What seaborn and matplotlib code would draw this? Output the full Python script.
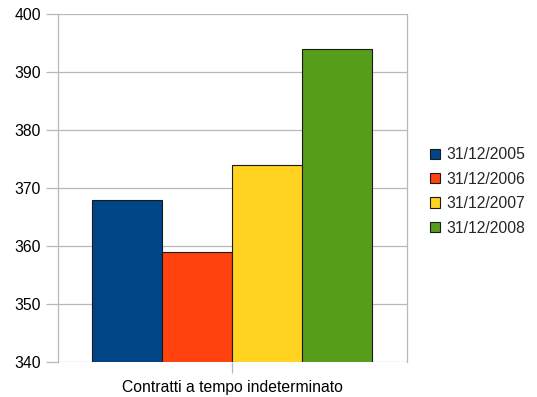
import matplotlib
matplotlib.use("Agg")
import matplotlib.pyplot as plt
import seaborn as sns
import pandas as pd

category = ["Contratti a tempo indeterminato"]
dates = ["31/12/2005", "31/12/2006", "31/12/2007", "31/12/2008"]
values = [368, 359, 374, 394]
colors = ["#004586", "#ff420e", "#ffd320", "#579d1c"]
yticks = [340, 350, 360, 370, 380, 390, 400]

df = pd.DataFrame({
    "categoria": category * len(dates),
    "data": dates,
    "valore": values,
})

sns.set_theme(style="white")
plt.rcParams["font.family"] = ["Liberation Sans", "DejaVu Sans"]

fig = plt.figure(figsize=(5.37, 3.97), dpi=100)
ax = fig.add_axes([57.5 / 537, 1 - 362 / 397, 349 / 537, 348 / 397])

sns.barplot(data=df, x="categoria", y="valore", hue="data", palette=colors,
            width=0.8, edgecolor="#1a1a1a", linewidth=0.8, saturation=1,
            ax=ax, zorder=3, legend=True)

ax.set_ylim(340, 400)
ax.set_yticks(yticks)
ax.set_xlim(-0.5, 0.5)
ax.set_xlabel("")
ax.set_ylabel("")
ax.grid(axis="y", color="#b8b8b8", linewidth=0.9, zorder=0)
for side in ["left", "right"]:
    ax.spines[side].set_color("#b8b8b8")
    ax.spines[side].set_linewidth(0.9)
for side in ["top", "bottom"]:
    ax.spines[side].set_visible(False)
ax.tick_params(axis="y", which="both", left=True, length=9, width=0.9,
               color="#b8b8b8", labelsize=11.3, labelcolor="#000000", pad=3)
ax.tick_params(axis="x", which="both", bottom=True, length=8, width=0.9,
               color="#b8b8b8", labelsize=11.3, labelcolor="#000000", pad=5)

handles, labels = ax.get_legend_handles_labels()
ax.legend(handles, labels, loc="center left", bbox_to_anchor=(1.05, 0.49),
          frameon=False, fontsize=11.3, handlelength=0.65, handleheight=0.65,
          handletextpad=0.4, labelspacing=0.6, borderaxespad=0)

fig.savefig("out.png", dpi=100)
